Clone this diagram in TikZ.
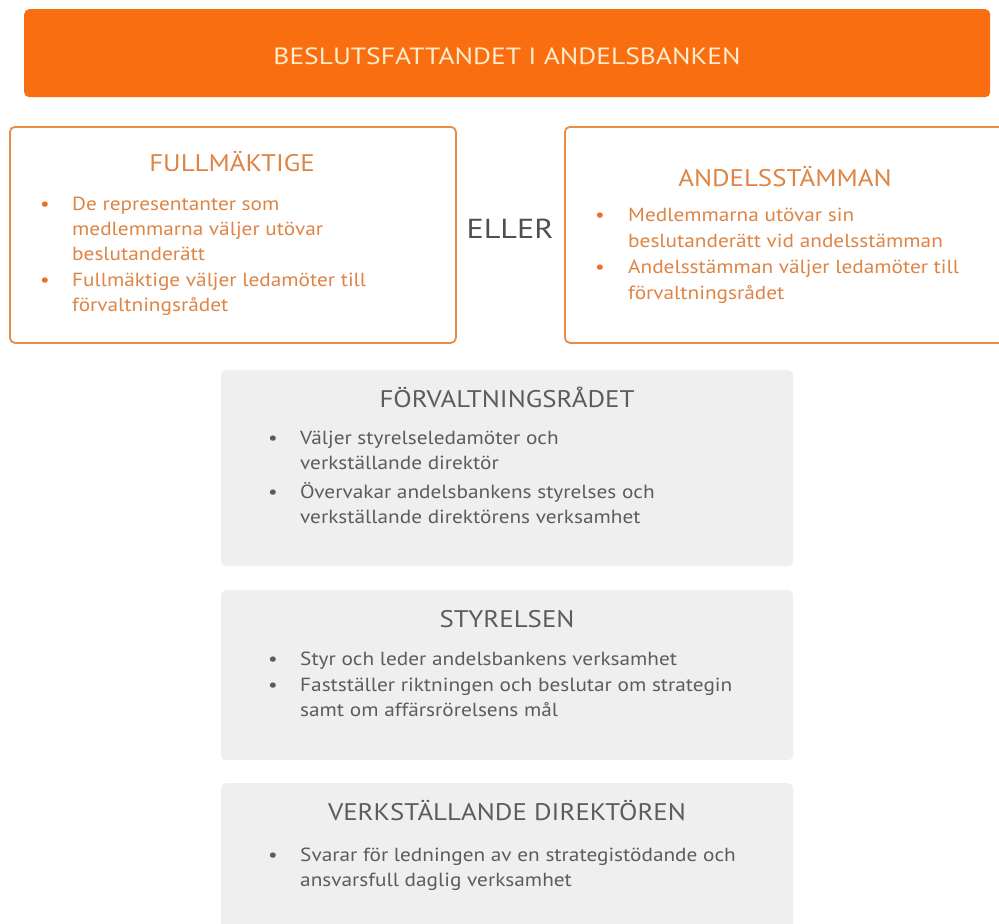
\documentclass[tikz,border=0pt]{standalone}
\usepackage{fontspec}
\setmainfont{PT Sans}[FakeStretch=1.12]
\newfontfamily\hdrfont{PT Sans}[FakeStretch=1.17]
\definecolor{hdr}{RGB}{250,110,18}
\definecolor{hdrtxt}{RGB}{255,236,205}
\definecolor{oline}{RGB}{232,140,70}
\definecolor{otxt}{RGB}{222,132,68}
\definecolor{odot}{RGB}{232,112,40}
\definecolor{gfill}{RGB}{239,239,239}
\definecolor{gtxt}{RGB}{92,92,92}
\definecolor{eller}{RGB}{80,80,80}
\begin{document}
\begin{tikzpicture}[x=1pt,y=-1pt,
  box/.style={anchor=north west, inner sep=0pt, rounded corners=5pt},
  obox/.style={box, draw=oline, line width=1.8pt, fill=white},
  gbox/.style={box, fill=gfill},
  body/.style={anchor=base west, inner sep=0pt, font=\fontsize{19}{25}\selectfont},
  ttl/.style={anchor=base, inner sep=0pt, font=\fontsize{24}{28}\selectfont},
  bdot/.style={anchor=base, inner sep=0pt, font=\fontsize{19}{25}\selectfont},
  otext/.style={text=otxt},
  gtext/.style={text=gtxt}]
\useasboundingbox (0,0) rectangle (999,924);
\clip (0,0) rectangle (999,924);
\fill[white] (0,0) rectangle (999,924);
% header
\node[box, fill=hdr, minimum width=966pt, minimum height=88pt] (header) at (24,9) {};
\node[ttl, text=hdrtxt, font=\hdrfont\fontsize{23.5}{28}\selectfont] (htitle) at (507,64) {BESLUTSFATTANDET I ANDELSBANKEN};
% left box
\node[obox, minimum width=446pt, minimum height=216pt] (fullbox) at (9,126) {};
\node[ttl, otext] (fulltitle) at (232,171) {FULLMÄKTIGE};
\node[bdot, text=odot] (fd1) at (45,210) {•};
\node[body, otext] (fl1) at (72,210) {De representanter som};
\node[body, otext] (fl2) at (72,235) {medlemmarna väljer utövar};
\node[body, otext] (fl3) at (72,260) {beslutanderätt};
\node[bdot, text=odot] (fd2) at (45,286) {•};
\node[body, otext] (fl4) at (72,286) {Fullmäktige väljer ledamöter till};
\node[body, otext] (fl5) at (72,311) {förvaltningsrådet};
% ELLER
\node[anchor=base, inner sep=0pt, text=eller, font=\hdrfont\fontsize{27.5}{30}\selectfont] (eller) at (510,238) {ELLER};
% right box
\node[obox, minimum width=446pt, minimum height=216pt] (andbox) at (564,126) {};
\node[ttl, otext] (andtitle) at (785,186) {ANDELSSTÄMMAN};
\node[bdot, text=odot] (ad1) at (600,221) {•};
\node[body, otext] (al1) at (628,221) {Medlemmarna utövar sin};
\node[body, otext] (al2) at (628,247) {beslutanderätt vid andelsstämman};
\node[bdot, text=odot] (ad2) at (600,273) {•};
\node[body, otext] (al3) at (628,273) {Andelsstämman väljer ledamöter till};
\node[body, otext] (al4) at (628,299) {förvaltningsrådet};
% forvaltningsradet
\node[gbox, minimum width=572pt, minimum height=196pt] (forbox) at (221,370) {};
\node[ttl, gtext] (fortitle) at (507,407) {FÖRVALTNINGSRÅDET};
\node[bdot, gtext] (rd1) at (273,444) {•};
\node[body, gtext] (rl1) at (300,444) {Väljer styrelseledamöter och};
\node[body, gtext] (rl2) at (300,469) {verkställande direktör};
\node[bdot, gtext] (rd2) at (273,498) {•};
\node[body, gtext] (rl3) at (300,498) {Övervakar andelsbankens styrelses och};
\node[body, gtext] (rl4) at (300,523) {verkställande direktörens verksamhet};
% styrelsen
\node[gbox, minimum width=572pt, minimum height=170pt] (stybox) at (221,590) {};
\node[ttl, gtext] (stytitle) at (507,627) {STYRELSEN};
\node[bdot, gtext] (sd1) at (273,665) {•};
\node[body, gtext] (sl1) at (300,665) {Styr och leder andelsbankens verksamhet};
\node[bdot, gtext] (sd2) at (273,691) {•};
\node[body, gtext] (sl2) at (300,691) {Fastställer riktningen och beslutar om strategin};
\node[body, gtext] (sl3) at (300,716) {samt om affärsrörelsens mål};
% vd
\node[gbox, minimum width=572pt, minimum height=160pt] (vdbox) at (221,783) {};
\node[ttl, gtext] (vdtitle) at (507,820) {VERKSTÄLLANDE DIREKTÖREN};
\node[bdot, gtext] (vd1) at (273,861) {•};
\node[body, gtext] (vl1) at (300,861) {Svarar för ledningen av en strategistödande och};
\node[body, gtext] (vl2) at (300,886) {ansvarsfull daglig verksamhet};
\end{tikzpicture}
\end{document}
